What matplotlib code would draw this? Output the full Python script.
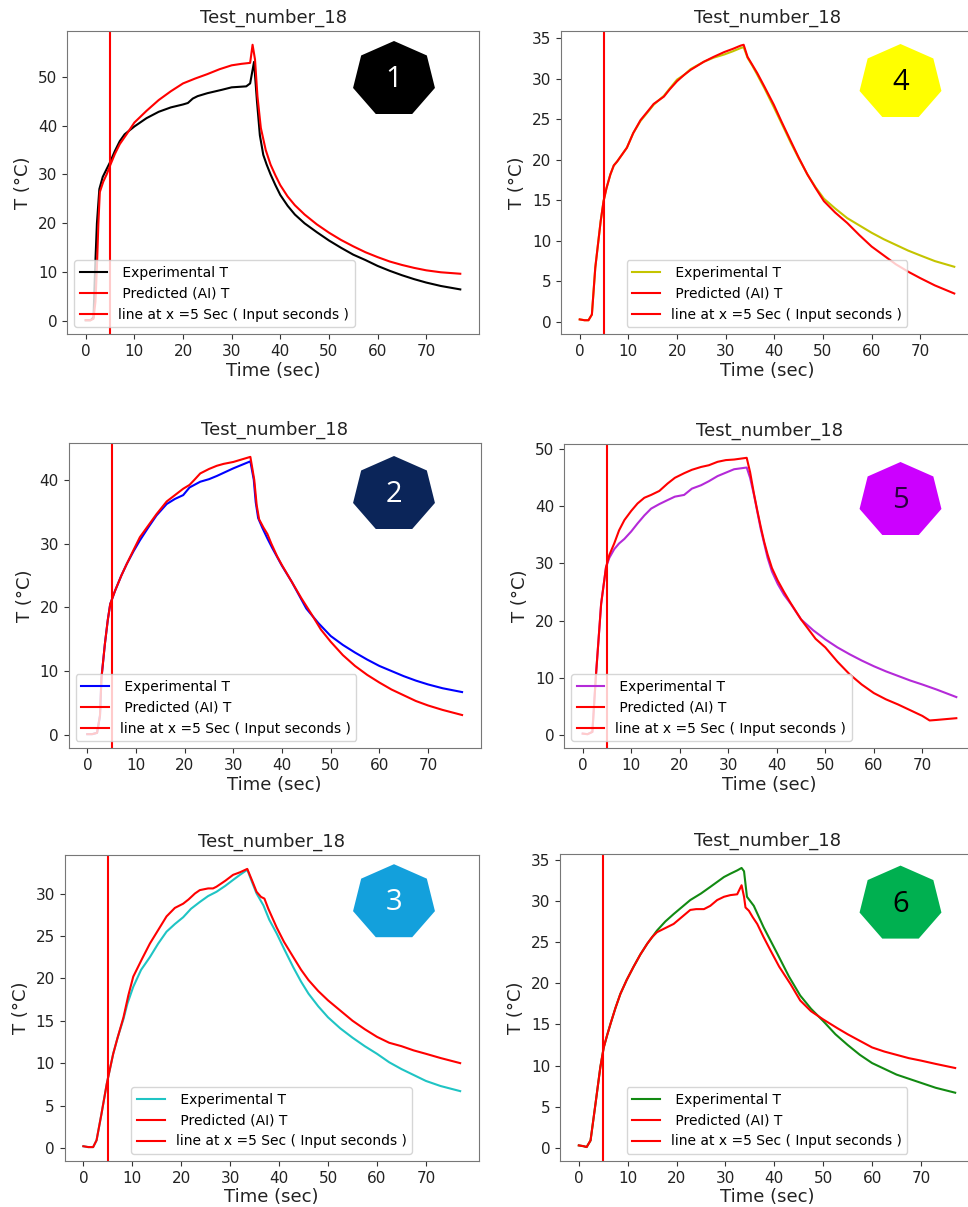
import numpy as np
import matplotlib
matplotlib.use("Agg")
import matplotlib.pyplot as plt
from matplotlib.patches import Polygon

# ----------------------------------------------------------------
# Data (time in sec, temperature in deg C)
# ----------------------------------------------------------------
# Panel 1 (black)
exp1_t = [0, 1, 1.6, 1.9, 2.3, 2.8, 3.5, 5, 6, 7, 8, 10, 12.5, 15, 17.5, 20, 21, 22, 23, 25, 28,
          30, 33, 33.8, 34.6, 35.2, 35.8, 36.5, 37.2, 38, 39, 40, 41.5, 43, 45, 47.5, 50, 52.5,
          55, 57.5, 60, 62.5, 65, 67.5, 70, 73, 77]
exp1_T = [0.2, 0.2, 0.8, 10, 20, 27, 29.5, 32.5, 34.8, 36.8, 38.2, 39.8, 41.5, 42.8, 43.7, 44.3,
          44.6, 45.5, 46, 46.6, 47.3, 47.8, 48, 48.6, 53, 45, 38, 34, 32, 30, 27.8, 25.8, 23.6,
          21.8, 20, 18.2, 16.5, 15, 13.6, 12.5, 11.3, 10.3, 9.4, 8.6, 7.9, 7.2, 6.5]
pred1_t = [0, 1, 1.6, 2.0, 2.3, 2.6, 2.9, 3.6, 4.3, 5, 6, 7, 8.4, 10, 12.5, 15, 17.5, 20, 22.5,
           25, 27.5, 30, 32, 33.8, 34.3, 34.8, 35.3, 36, 37, 38, 39, 40, 41.5, 43, 45, 47.5,
           50, 52.5, 55, 57.5, 60, 62.5, 65, 67.5, 70, 73, 77]
pred1_T = [0.2, 0.2, 0.5, 4, 11, 20, 26.4, 28.5, 30, 31.8, 34.2, 36.2, 38.2, 40.6, 43, 45.2, 47,
           48.6, 49.6, 50.5, 51.5, 52.3, 52.6, 52.8, 56.5, 53.5, 46, 39.5, 35, 32, 29.8, 27.8,
           25.5, 23.7, 21.8, 19.8, 18.1, 16.6, 15.3, 14.1, 13.1, 12.2, 11.5, 10.9, 10.4, 10, 9.7]

# Panel 2 (blue)
exp2_t = [0, 1, 2, 2.6, 2.9, 3.6, 4.2, 4.7, 5.7, 7, 8.1, 9.5, 10.8, 12.5, 14.2, 16.3, 18, 19.7,
          21, 23.2, 25, 26.6, 30, 33.5, 34.2, 34.6, 35.1, 36, 37, 38, 39, 40, 42, 45, 47.5, 50,
          52.5, 55, 57.5, 60, 62.5, 65, 67.5, 70, 73, 77]
exp2_T = [0.1, 0.1, 0.3, 3, 8.9, 14.2, 18, 20.5, 22.6, 25, 26.8, 28.8, 30.5, 32.5, 34.4, 36.2, 37,
          37.6, 38.8, 39.7, 40.1, 40.6, 41.8, 42.9, 40, 36.5, 34, 32.4, 30.8, 29.3, 27.9, 26.5,
          24, 19.8, 17.5, 15.5, 14.1, 12.9, 11.8, 10.8, 10, 9.2, 8.5, 7.9, 7.3, 6.7]
pred2_t = [0, 1, 2, 2.6, 2.9, 3.6, 4.2, 4.7, 5.7, 7, 8.1, 9.5, 10.8, 12.5, 14.2, 16.3, 18, 19.7,
           21, 22, 23.2, 25, 26.6, 28, 30, 33.5, 34.3, 34.8, 35.3, 36.2, 37, 37.8, 39, 40, 42,
           44, 46, 48, 50, 52.5, 55, 57.5, 60, 62.5, 65, 67.5, 70, 73, 77]
pred2_T = [0.1, 0.1, 0.3, 3, 8.9, 14.2, 18, 20.5, 22.6, 25, 26.8, 29, 31, 32.8, 34.6, 36.6, 37.6,
           38.6, 39.2, 40, 41, 41.7, 42.2, 42.5, 42.8, 43.6, 40, 36, 33.8, 32.5, 31.5, 30, 28,
           26.6, 24, 21.4, 19, 16.5, 14.6, 12.5, 10.8, 9.4, 8.2, 7.1, 6.2, 5.3, 4.6, 3.9, 3.1]

# Panel 3 (cyan)
exp3_t = [0, 1, 2, 2.7, 3.7, 4.8, 6.1, 7, 8.2, 9, 10.2, 11.8, 13.6, 15.3, 17, 18.7, 20.4, 22,
          23.8, 25.5, 27.2, 29, 30.6, 32, 33.5, 34.5, 35.4, 36.8, 38, 39.5, 41, 42.9, 44.5, 46,
          48, 50, 52.5, 55, 57.5, 60, 62.5, 65, 67.5, 70, 73, 77]
exp3_T = [0.2, 0.1, 0.1, 0.9, 4, 7.6, 11.1, 13, 15.2, 17, 19, 21, 22.5, 24.1, 25.5, 26.4, 27.2,
          28.2, 29, 29.7, 30.2, 30.9, 31.6, 32.2, 32.8, 31.3, 30, 28.6, 26.9, 25.3, 23.5, 21.3,
          19.6, 18.2, 16.7, 15.4, 14.1, 13, 12, 11.1, 10.1, 9.3, 8.6, 7.9, 7.3, 6.7]
pred3_t = [0, 1, 2, 2.7, 3.7, 4.8, 6.1, 7, 8.2, 9.2, 10.2, 12, 13.6, 15.3, 17, 18.7, 20.4, 21.5,
           22.8, 23.8, 25.5, 26.5, 27.2, 29, 30.6, 32, 33.5, 34.5, 35.4, 36.3, 37, 37.8, 39.5,
           41, 42.9, 44.5, 46, 48, 50, 52.5, 55, 57.5, 60, 62.5, 65, 67.5, 70, 73, 77]
pred3_T = [0.2, 0.1, 0.1, 0.9, 4, 7.6, 11.1, 13, 15.4, 18, 20.2, 22.3, 24.1, 25.7, 27.3, 28.3,
           28.8, 29.3, 30, 30.4, 30.6, 30.6, 30.8, 31.5, 32.2, 32.5, 32.9, 31.5, 30.2, 29.6, 29.4,
           28.2, 26, 24.3, 22.5, 21, 19.8, 18.5, 17.4, 16.2, 15, 14, 13.1, 12.4, 12, 11.5, 11.1,
           10.6, 10]

# Panel 4 (yellow)
exp4_t = [0, 1, 1.8, 2.5, 3.2, 4.3, 4.9, 5.5, 6.3, 7, 7.7, 9.7, 11, 12.5, 14, 15.2, 17.3, 18.5,
          20, 21.5, 22.8, 25.5, 27.5, 29.7, 31.5, 33.1, 33.7, 34.5, 35.5, 36.5, 38, 39.9, 41.5,
          43.4, 45, 46.8, 48.5, 50.2, 52.5, 55, 57.5, 60, 62.5, 65, 67.5, 70, 73, 77]
exp4_T = [0.3, 0.2, 0.2, 0.9, 6.7, 12.4, 14.9, 16.5, 18.2, 19.3, 19.8, 21.5, 23.3, 24.8, 25.9,
          26.8, 27.9, 28.8, 29.9, 30.5, 31.2, 32.1, 32.6, 33.0, 33.4, 33.8, 33.9, 32.6, 31.6,
          30.5, 28.8, 26.5, 24.5, 22.1, 20.2, 18.2, 16.6, 15.2, 14, 12.8, 11.9, 11, 10.2, 9.5,
          8.8, 8.2, 7.5, 6.8]
pred4_t = exp4_t
pred4_T = [0.3, 0.2, 0.2, 0.9, 6.7, 12.4, 14.9, 16.5, 18.2, 19.3, 19.8, 21.5, 23.3, 24.9, 26,
           26.9, 27.8, 28.7, 29.7, 30.5, 31.1, 32.1, 32.7, 33.3, 33.7, 34.1, 34.2, 32.7, 31.7,
           30.7, 29, 26.8, 24.7, 22.3, 20.3, 18.2, 16.5, 14.9, 13.5, 12.2, 10.7, 9.3, 8.2, 7.1,
           6.2, 5.4, 4.5, 3.5]

# Panel 5 (purple)
exp5_t = [0, 1, 2, 2.7, 3.8, 4.8, 5.5, 6.5, 7.5, 8.6, 10, 11.3, 12.7, 14.1, 15.8, 17.5, 19, 20.9,
          22.5, 24.4, 26, 27.8, 29.5, 31.2, 33.8, 34.5, 35.3, 36, 36.7, 37.4, 38.1, 39, 40.2,
          41.5, 42.9, 45, 47.5, 50, 52.5, 55, 57.5, 60, 62.5, 65, 67.5, 70, 73, 77]
exp5_T = [0.2, 0.1, 0.5, 10, 22.9, 29.3, 31, 32.5, 33.5, 34.3, 35.6, 37, 38.4, 39.6, 40.4, 41.1,
          41.7, 42, 43.1, 43.7, 44.4, 45.3, 45.9, 46.5, 46.8, 45, 42, 39, 36, 33.5, 31, 28.6,
          26.4, 24.5, 22.9, 20.2, 18.3, 16.7, 15.3, 14.1, 13, 12, 11.1, 10.3, 9.5, 8.8, 7.9, 6.6]
pred5_t = [0, 1, 2, 2.7, 3.8, 4.8, 5.5, 6.5, 7.5, 8.6, 10, 11.3, 12.7, 14.1, 15.8, 17.5, 19,
           20.9, 22.5, 24.4, 26, 27.8, 29.5, 31.2, 33.8, 34.5, 35.3, 36, 36.7, 37.4, 38.1, 39,
           40.2, 41.5, 42.9, 45, 46.5, 48, 50, 52.5, 55, 57.5, 60, 62.5, 65, 67.5, 70, 71.5, 73, 77]
pred5_T = [0.2, 0.1, 0.5, 10, 22.9, 29.3, 31.5, 33.5, 35.8, 37.6, 39.2, 40.5, 41.5, 42, 42.7,
           44, 45, 45.8, 46.4, 46.9, 47.2, 47.8, 48.1, 48.2, 48.5, 46, 42.2, 39.2, 36.4, 33.8,
           31.6, 29.2, 27, 25, 23, 20.2, 18.5, 16.8, 15.3, 12.8, 10.6, 8.8, 7.3, 6.2, 5.3, 4.3,
           3.3, 2.5, 2.6, 2.9]

# Panel 6 (green)
exp6_t = [0, 1, 1.6, 2.4, 3.4, 4.4, 5.1, 5.8, 6.5, 7.5, 8.5, 9.8, 11.2, 12.6, 14, 15, 16, 17.7,
          19.4, 21, 22.8, 25, 26.9, 28.3, 29.7, 31, 32.4, 33.3, 33.8, 34.4, 35.8, 37.8, 40.6, 43,
          45.3, 47.5, 50, 52.5, 55, 57.5, 60, 62.5, 65, 67.5, 70, 73, 77]
exp6_T = [0.3, 0.2, 0.1, 0.9, 5.3, 9.8, 12.2, 13.7, 15.1, 17, 18.7, 20.4, 22, 23.5, 24.8, 25.6,
          26.4, 27.5, 28.4, 29.2, 30.1, 30.9, 31.7, 32.3, 32.9, 33.3, 33.7, 34.0, 33.6, 30.5,
          29.4, 26.8, 23.6, 20.8, 18.5, 16.9, 15.4, 13.8, 12.5, 11.3, 10.3, 9.6, 8.9, 8.4, 7.9,
          7.3, 6.7]
pred6_t = [0, 1, 1.6, 2.4, 3.4, 4.4, 5.1, 5.8, 6.5, 7.5, 8.5, 9.8, 11.2, 12.6, 14, 15, 16, 17.7,
           19.4, 21, 22.8, 24, 25.6, 26.9, 28.3, 29.7, 31, 32.4, 33.3, 33.8, 34.1, 34.8, 35.6,
           36.5, 37.8, 39.2, 41, 43.3, 45.3, 47.5, 50, 53, 55, 57.5, 60, 62.5, 65, 67.5, 70, 73, 77]
pred6_T = [0.3, 0.2, 0.1, 0.9, 5.3, 9.8, 12.2, 13.7, 15.1, 17, 18.7, 20.4, 22, 23.5, 24.8, 25.6,
           26.2, 26.7, 27.2, 28, 28.9, 29, 29, 29.4, 30.1, 30.5, 30.7, 30.8, 31.9, 30.5, 29.2,
           28.8, 28, 27.2, 25.6, 24, 22, 19.9, 17.9, 16.6, 15.6, 14.5, 13.8, 13, 12.2, 11.7,
           11.3, 10.9, 10.6, 10.2, 9.7]

INPUT_SEC = 5
TITLE = "Test_number_18"
LABELS = [" Experimental T", " Predicted (AI) T", "line at x =5 Sec ( Input seconds )"]

# ----------------------------------------------------------------
# Layout (pixel boxes: left, top, right, bottom) and styles
# ----------------------------------------------------------------
W, H = 968, 1207
panels = [
    # (exp_t, exp_T, pred_t, pred_T, color, box, legend loc, badge)
    (exp1_t, exp1_T, pred1_t, pred1_T, "k", (67, 31, 479, 334), "lower left",
     ("1", (394, 79.4), "#000000", "white")),
    (exp2_t, exp2_T, pred2_t, pred2_T, "b", (68.6, 443, 480.8, 748), "lower left",
     ("2", (394, 494.4), "#0b2559", "white")),
    (exp3_t, exp3_T, pred3_t, pred3_T, "#1fc4c4", (64.5, 855, 479, 1161), "lower center",
     ("3", (394, 902.6), "#13a0dc", "white")),
    (exp4_t, exp4_T, pred4_t, pred4_T, "#c4c400", (561, 31, 973, 334), "lower center",
     ("4", (900.5, 82.4), "#ffff00", "black")),
    (exp5_t, exp5_T, pred5_t, pred5_T, "#b42ad8", (564, 444, 975, 748), "lower left",
     ("5", (900.5, 500.4), "#cc00ff", "#2a0040")),
    (exp6_t, exp6_T, pred6_t, pred6_T, "#128a12", (560, 854, 974, 1161), "lower center",
     ("6", (900.5, 904), "#00b050", "black")),
]

plt.rcParams["font.family"] = "DejaVu Sans"
fig = plt.figure(figsize=(W / 100, H / 100), dpi=100)

for et, eT, pt, pT, col, (l, t, r, b), loc, _ in panels:
    ax = fig.add_axes([l / W, 1 - b / H, (r - l) / W, (b - t) / H])
    ax.plot(et, eT, color=col, linewidth=1.5, label=LABELS[0])
    ax.plot(pt, pT, color="red", linewidth=1.5, label=LABELS[1])
    ax.axvline(INPUT_SEC, color="red", linewidth=1.5, label=LABELS[2])
    ax.set_title(TITLE, fontsize=13, color="#222222")
    ax.set_xlabel("Time (sec)", fontsize=13, color="#222222", labelpad=2)
    ax.set_ylabel("T (°C)", fontsize=13, color="#222222")
    ax.set_xticks(range(0, 80, 10))
    ax.tick_params(labelsize=11, colors="#333333", labelcolor="#222222")
    for s in ax.spines.values():
        s.set_color("#777777")
    ax.legend(loc=loc, fontsize=10)

# heptagon badges drawn in pixel coordinates on an overlay
ov = fig.add_axes([0, 0, 1, 1], zorder=10)
ov.set_xlim(0, W)
ov.set_ylim(H, 0)
ov.axis("off")
ang = np.deg2rad(90 + np.arange(7) * 360 / 7)
for *_, (num, (cx, cy), fc, tc) in panels:
    verts = np.column_stack([cx + 42 * np.cos(ang), cy - 38.4 * np.sin(ang)])
    ov.add_patch(Polygon(verts, closed=True, facecolor=fc, edgecolor="none"))
    ov.text(cx, cy, num, ha="center", va="center", fontsize=21, color=tc, family="Open Sans")

fig.savefig("out.png", dpi=100)
